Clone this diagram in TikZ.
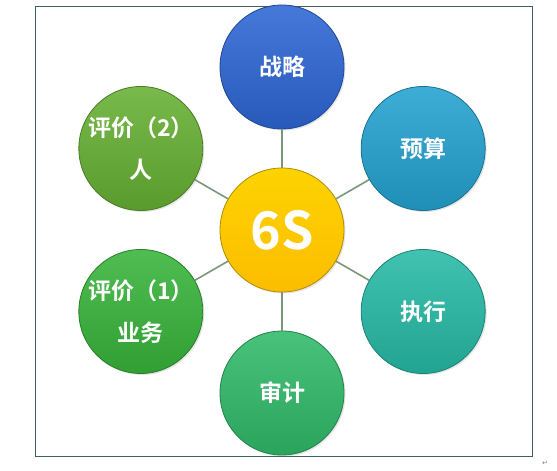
\documentclass[tikz,border=0pt]{standalone}
\usepackage{fontspec}
\newfontfamily\cjk{Noto Sans CJK SC}[BoldFont={Noto Sans CJK SC Bold}]
\newfontfamily\symfont{DejaVu Sans}
\usetikzlibrary{positioning, calc, shadows}
\definecolor{zlblue}{HTML}{2C66D4}
\definecolor{ysblue}{HTML}{24A2D0}
\definecolor{zxteal}{HTML}{27BAA6}
\definecolor{sjgreen}{HTML}{30BA6A}
\definecolor{pjone}{HTML}{38B43A}
\definecolor{pjtwo}{HTML}{67B034}
\definecolor{sixs}{HTML}{FCC800}
\definecolor{spoke}{HTML}{7B977B}
\definecolor{frame}{HTML}{405E5E}
\tikzset{%
  ball/.style={%
    circle, minimum size=124pt, inner sep=0pt, line width=0.8pt,
    draw=#1!70!black, top color=#1!88!white, bottom color=#1!88!black,
    drop shadow={opacity=0.2, shadow xshift=1.5pt, shadow yshift=-1.5pt},
    text=white, align=center, font=\cjk\bfseries\fontsize{23}{42}\selectfont
  },
  every spoke/.style={draw=spoke, line width=1.6pt}
}

\begin{document}
\begin{tikzpicture}[x=1pt, y=1pt]
    \useasboundingbox (0,0) rectangle (557,471);
    \draw[frame, line width=0.8pt, fill=white] (35,15) rectangle (532,465);
    \node[text=gray, font=\symfont\fontsize{7}{8}\selectfont] (ret) at (545,8) {↵};

    \coordinate (mid) at (282,241);
    \node[ball=zlblue] (zl) at ($(mid)+(90:163)$) {战略};
    \node[ball=ysblue] (ys) at ($(mid)+(30:163)$) {预算};
    \node[ball=zxteal] (zx) at ($(mid)+(-30:163)$) {执行};
    \node[ball=sjgreen] (sj) at ($(mid)+(-90:163)$) {审计};
    \node[ball=pjone] (pj1) at ($(mid)+(210:163)$) {评价（1）\\业务};
    \node[ball=pjtwo] (pj2) at ($(mid)+(150:163)$) {评价（2）\\人};

    % spokes go behind the centre ball
    \draw[every spoke] (mid) -- (zl);
    \draw[every spoke] (mid) -- (ys);
    \draw[every spoke] (mid) -- (zx);
    \draw[every spoke] (mid) -- (sj);
    \draw[every spoke] (mid) -- (pj1);
    \draw[every spoke] (mid) -- (pj2);

    \node[ball=sixs, top color=sixs!80!yellow, bottom color=sixs!85!orange,
      font=\cjk\bfseries\fontsize{52}{52}\selectfont] (six) at (mid) {6S};
\end{tikzpicture}
\end{document}
